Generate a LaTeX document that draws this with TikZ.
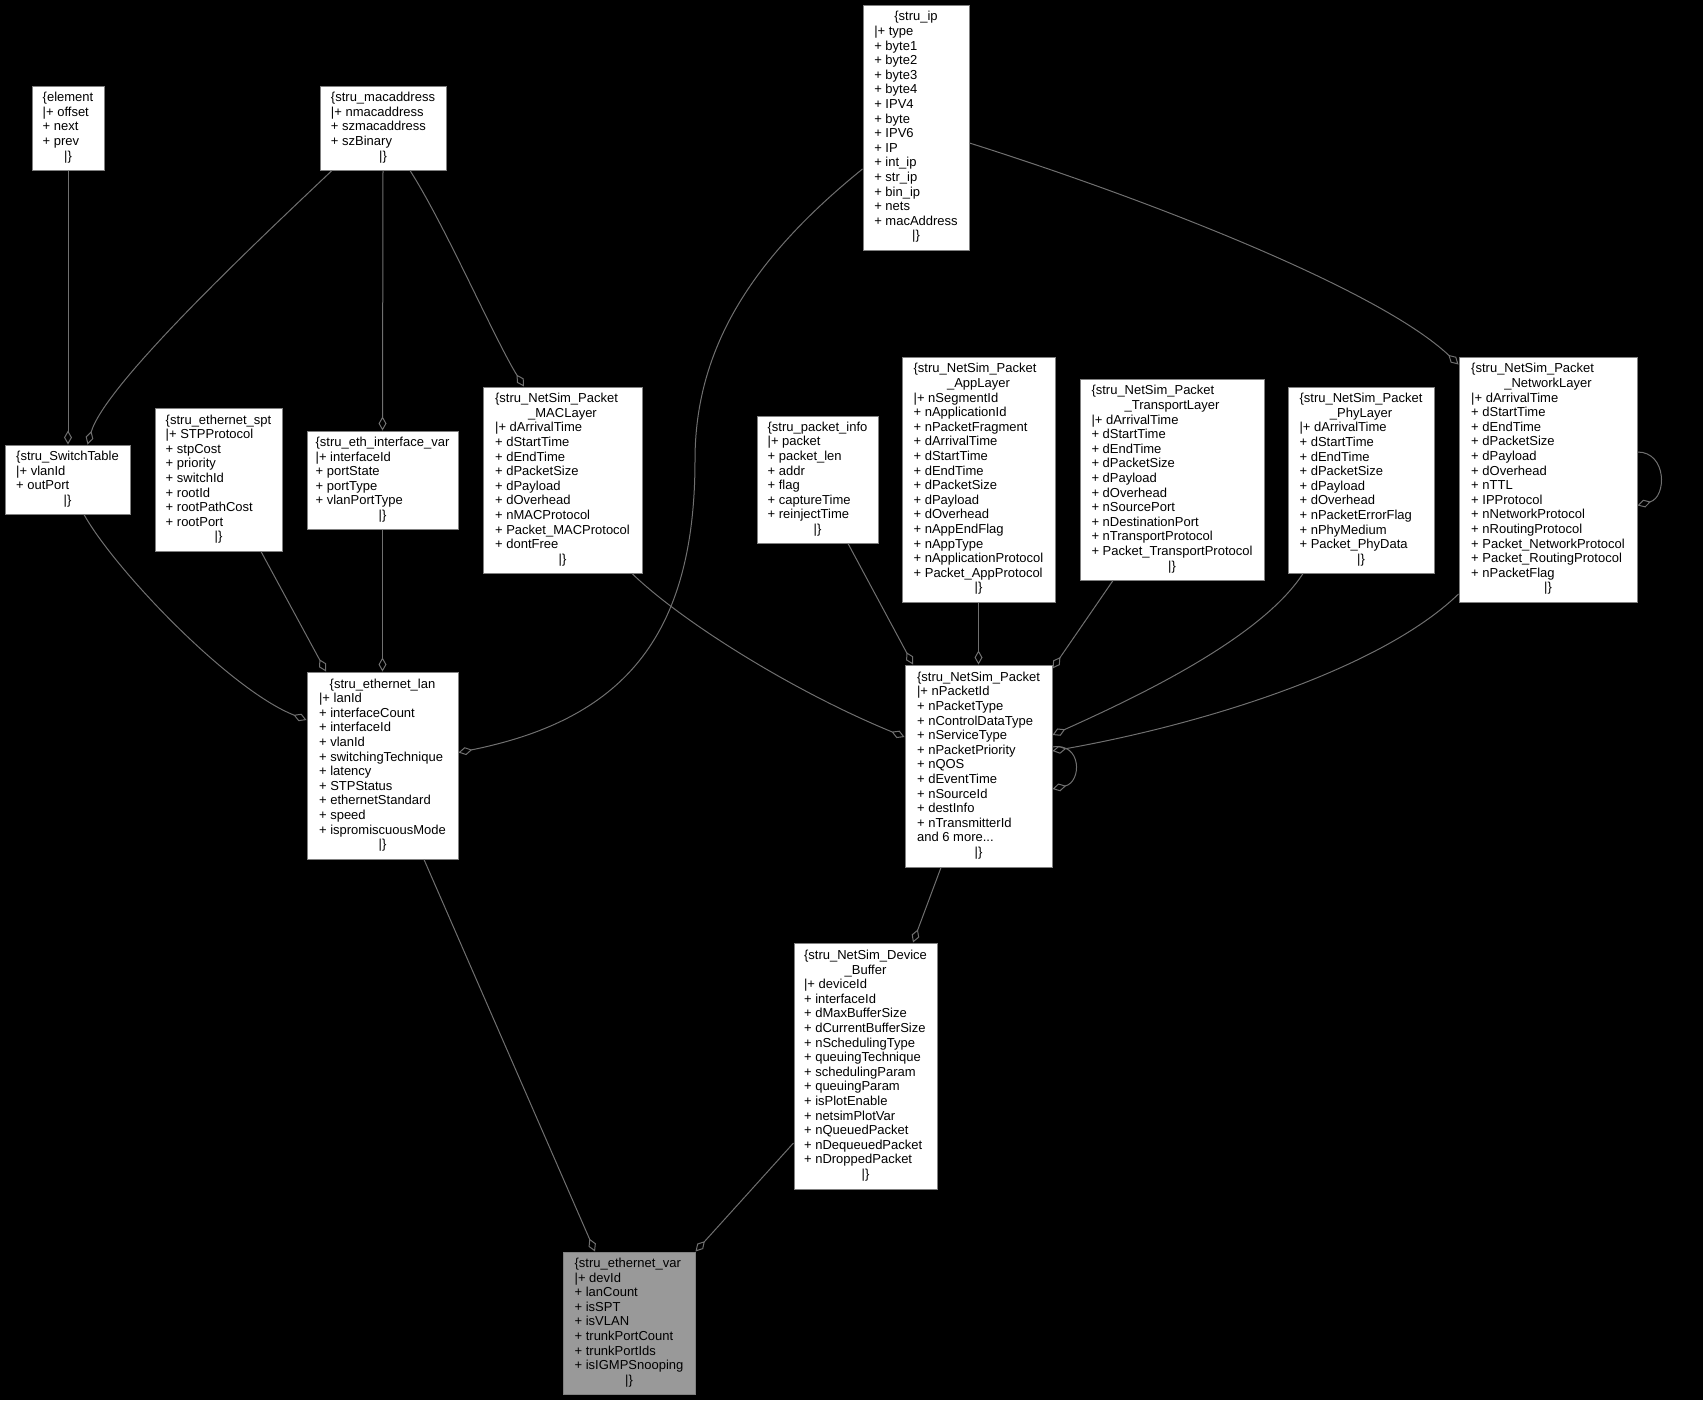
\documentclass[tikz,border=0pt]{standalone}
\usepackage{fontspec}
\setmainfont{Liberation Sans}
\usetikzlibrary{arrows.meta}
\definecolor{bordergray}{RGB}{128,128,128}
\definecolor{linegray}{RGB}{112,112,112}
\definecolor{rootfill}{RGB}{153,153,153}
\newcommand\Cl[1]{\multicolumn{1}{@{}c@{}}{#1}}
\newcommand\Tb[1]{\begin{tabular}{@{}l@{}}#1\end{tabular}}
\tikzset{
  cls/.style={draw=bordergray, fill=white, line width=0.75pt, inner sep=0pt, text=black,
    font={\fontsize{9.75pt}{10.95pt}\selectfont}},
  rootcls/.style={cls, fill=rootfill},
  agg/.style={draw=linegray, line width=0.75pt, -{Diamond[open, length=10.5pt, width=6pt]}},
}
\begin{document}
\begin{tikzpicture}[x=0.75pt, y=-0.75pt]
\useasboundingbox (0,0) rectangle (1703,1400);
\fill[black] (0,0) rectangle (1703,1400);

% row 1
\node[cls, minimum width=54pt, minimum height=63pt] (element) at (68,128)
  {\Tb{\Cl{\{element}\\ |+ offset\\ + next\\ + prev\\ \Cl{|\}}}};
\node[cls, minimum width=94.5pt, minimum height=63pt] (macaddr) at (383,128)
  {\Tb{\Cl{\{stru\_macaddress}\\ |+ nmacaddress\\ + szmacaddress\\ + szBinary\\ \Cl{|\}}}};
\node[cls, minimum width=79.5pt, minimum height=183.75pt] (ip) at (916,127.5)
  {\Tb{\Cl{\{stru\_ip}\\ |+ type\\ + byte1\\ + byte2\\ + byte3\\ + byte4\\ + IPV4\\ + byte\\ + IPV6\\ + IP\\ + int\_ip\\ + str\_ip\\ + bin\_ip\\ + nets\\ + macAddress\\ \Cl{|\}}}};

% row 2
\node[cls, minimum width=93.75pt, minimum height=51.75pt] (stab) at (67.5,479.5)
  {\Tb{\{stru\_SwitchTable\\ |+ vlanId\\ + outPort\\ \Cl{|\}}}};
\node[cls, minimum width=95.25pt, minimum height=107.25pt] (spt) at (218.5,479.5)
  {\Tb{\{stru\_ethernet\_spt\\ |+ STPProtocol\\ + stpCost\\ + priority\\ + switchId\\ + rootId\\ + rootPathCost\\ + rootPort\\ \Cl{|\}}}};
\node[cls, minimum width=113.25pt, minimum height=73.5pt] (ethif) at (382.5,480)
  {\Tb{\{stru\_eth\_interface\_var\\ |+ interfaceId\\ + portState\\ + portType\\ + vlanPortType\\ \Cl{|\}}}};
\node[cls, minimum width=119.25pt, minimum height=139.5pt] (mac) at (562.5,480)
  {\Tb{\{stru\_NetSim\_Packet\\ \Cl{\_MACLayer}\\ |+ dArrivalTime\\ + dStartTime\\ + dEndTime\\ + dPacketSize\\ + dPayload\\ + dOverhead\\ + nMACProtocol\\ + Packet\_MACProtocol\\ + dontFree\\ \Cl{|\}}}};
\node[cls, minimum width=90.75pt, minimum height=95.25pt] (pinfo) at (817.5,479.5)
  {\Tb{\{stru\_packet\_info\\ |+ packet\\ + packet\_len\\ + addr\\ + flag\\ + captureTime\\ + reinjectTime\\ \Cl{|\}}}};
\node[cls, minimum width=114.75pt, minimum height=183.75pt] (app) at (978.5,479.5)
  {\Tb{\{stru\_NetSim\_Packet\\ \Cl{\_AppLayer}\\ |+ nSegmentId\\ + nApplicationId\\ + nPacketFragment\\ + dArrivalTime\\ + dStartTime\\ + dEndTime\\ + dPacketSize\\ + dPayload\\ + dOverhead\\ + nAppEndFlag\\ + nAppType\\ + nApplicationProtocol\\ + Packet\_AppProtocol\\ \Cl{|\}}}};
\node[cls, minimum width=138pt, minimum height=150.75pt] (trans) at (1172,479.5)
  {\Tb{\{stru\_NetSim\_Packet\\ \Cl{\_TransportLayer}\\ |+ dArrivalTime\\ + dStartTime\\ + dEndTime\\ + dPacketSize\\ + dPayload\\ + dOverhead\\ + nSourcePort\\ + nDestinationPort\\ + nTransportProtocol\\ + Packet\_TransportProtocol\\ \Cl{|\}}}};
\node[cls, minimum width=109.5pt, minimum height=139.5pt] (phy) at (1361,480)
  {\Tb{\{stru\_NetSim\_Packet\\ \Cl{\_PhyLayer}\\ |+ dArrivalTime\\ + dStartTime\\ + dEndTime\\ + dPacketSize\\ + dPayload\\ + dOverhead\\ + nPacketErrorFlag\\ + nPhyMedium\\ + Packet\_PhyData\\ \Cl{|\}}}};
\node[cls, minimum width=133.5pt, minimum height=183.75pt] (netl) at (1548,479.5)
  {\Tb{\{stru\_NetSim\_Packet\\ \Cl{\_NetworkLayer}\\ |+ dArrivalTime\\ + dStartTime\\ + dEndTime\\ + dPacketSize\\ + dPayload\\ + dOverhead\\ + nTTL\\ + IPProtocol\\ + nNetworkProtocol\\ + nRoutingProtocol\\ + Packet\_NetworkProtocol\\ + Packet\_RoutingProtocol\\ + nPacketFlag\\ \Cl{|\}}}};

% row 3
\node[cls, minimum width=113.25pt, minimum height=140.25pt] (ethlan) at (382.5,765.5)
  {\Tb{\Cl{\{stru\_ethernet\_lan}\\ |+ lanId\\ + interfaceCount\\ + interfaceId\\ + vlanId\\ + switchingTechnique\\ + latency\\ + STPStatus\\ + ethernetStandard\\ + speed\\ + ispromiscuousMode\\ \Cl{|\}}}};
\node[cls, minimum width=110.25pt, minimum height=151.5pt] (pkt) at (978.5,766)
  {\Tb{\{stru\_NetSim\_Packet\\ |+ nPacketId\\ + nPacketType\\ + nControlDataType\\ + nServiceType\\ + nPacketPriority\\ + nQOS\\ + dEventTime\\ + nSourceId\\ + destInfo\\ + nTransmitterId\\ and 6 more...\\ \Cl{|\}}}};

% row 4
\node[cls, minimum width=107.25pt, minimum height=184.5pt] (dbuf) at (865.5,1066)
  {\Tb{\{stru\_NetSim\_Device\\ \Cl{\_Buffer}\\ |+ deviceId\\ + interfaceId\\ + dMaxBufferSize\\ + dCurrentBufferSize\\ + nSchedulingType\\ + queuingTechnique\\ + schedulingParam\\ + queuingParam\\ + isPlotEnable\\ + netsimPlotVar\\ + nQueuedPacket\\ + nDequeuedPacket\\ + nDroppedPacket\\ \Cl{|\}}}};

% row 5
\node[rootcls, minimum width=99pt, minimum height=106.5pt] (evar) at (629,1323)
  {\Tb{\{stru\_ethernet\_var\\ |+ devId\\ + lanCount\\ + isSPT\\ + isVLAN\\ + trunkPortCount\\ + trunkPortIds\\ + isIGMPSnooping\\ \Cl{|\}}}};

\coordinate (ipbend) at (695,460);

% connectors
\draw[agg] (element.south) -- (element.south |- stab.north);
\draw[agg] ([shift={(-51,0)}]macaddr.south) .. controls (250,248) and (105,385) .. ([shift={(20,0)}]stab.north);
\draw[agg] (macaddr.south) -- (ethif.north);
\draw[agg] ([shift={(27,0)}]macaddr.south) .. controls (445,225) and (495,340) .. ([shift={(-38.5,0)}]mac.north);
\draw[agg] ([shift={(0,41.5)}]ip.west) .. controls (750,260) and (695,350) .. (ipbend)
  .. controls (695,640) and (620,720) .. ([shift={(0,-13)}]ethlan.east);
\draw[agg] ([shift={(0,15.5)}]ip.east) .. controls (1150,200) and (1380,290) .. ([shift={(0,8)}]netl.north west);
\draw[agg] ([shift={(16.5,0)}]stab.south) .. controls (115,570) and (230,690) .. ([shift={(0,-45.5)}]ethlan.west);
\draw[agg] ([shift={(42.5,0)}]spt.south) -- ([shift={(-56.5,0)}]ethlan.north);
\draw[agg] (ethif.south) -- (ethlan.north);
\draw[agg] ([shift={(69.5,0)}]mac.south) .. controls (680,620) and (790,690) .. ([shift={(0,-29)}]pkt.west);
\draw[agg] ([shift={(30.5,0)}]pinfo.south) -- ([shift={(-65.5,0)}]pkt.north);
\draw[agg] (app.south) -- (pkt.north);
\draw[agg] ([shift={(-59,0)}]trans.south) -- ([shift={(0,4)}]pkt.north east);
\draw[agg] ([shift={(-58,0)}]phy.south) .. controls (1260,640) and (1130,700) .. ([shift={(0,-31)}]pkt.east);
\draw[agg] ([shift={(0,114.5)}]netl.west) .. controls (1380,670) and (1200,725) .. ([shift={(0,-15)}]pkt.east);
\draw[agg] ([shift={(0,-19)}]pkt.east) .. controls (1082,742) and (1082,782) .. ([shift={(0,23)}]pkt.east);
\draw[agg] ([shift={(0,-27.5)}]netl.east) .. controls (1667,452) and (1667,497) .. ([shift={(0,26)}]netl.east);
\draw[agg] ([shift={(-37.5,0)}]pkt.south) -- ([shift={(47.5,0)}]dbuf.north);
\draw[agg] ([shift={(41.5,0)}]ethlan.south) -- ([shift={(-34,0)}]evar.north);
\draw[agg] ([shift={(0,77)}]dbuf.west) -- (evar.north east);
\end{tikzpicture}
\end{document}
